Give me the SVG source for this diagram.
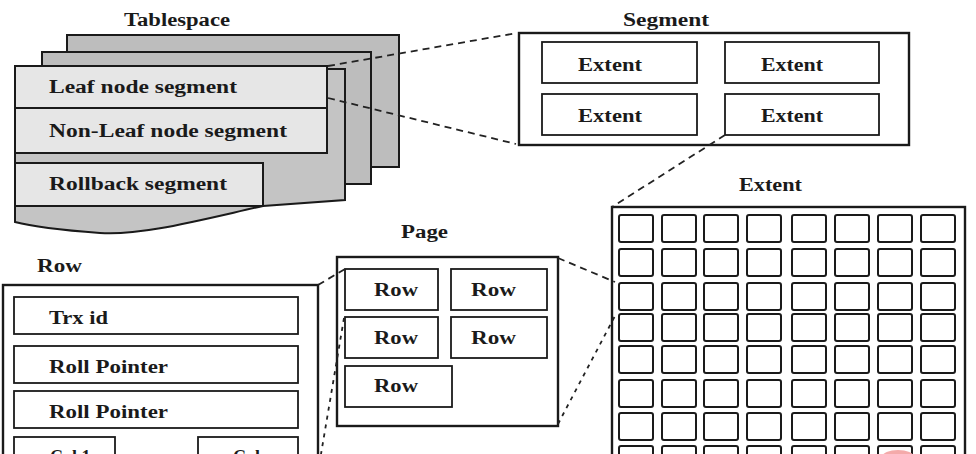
<svg xmlns="http://www.w3.org/2000/svg" width="976" height="454" viewBox="0 0 976 454">
<style>
text{font-family:"Liberation Serif","Times New Roman",serif;font-weight:bold;font-size:18px;fill:#1a1a1a}
.sheet{fill:#bdbdbd;stroke:#1a1a1a;stroke-width:2}
.front{fill:#c4c4c4;stroke:#1a1a1a;stroke-width:2}
.lbox{fill:#e6e6e6;stroke:#1a1a1a;stroke-width:2}
.outer{fill:#fff;stroke:#1a1a1a;stroke-width:2.4}
.box{fill:#fff;stroke:#1a1a1a;stroke-width:1.8}
.cell{fill:#fff;stroke:#1a1a1a;stroke-width:2}
.dash{fill:none;stroke:#222;stroke-width:1.8;stroke-dasharray:7 5}
.dot{fill:none;stroke:#222;stroke-width:1.8;stroke-dasharray:4 5}
</style>
<rect width="976" height="454" fill="#fff"/>

<g id="tablespace">
  <text x="124" y="26" textLength="106" lengthAdjust="spacingAndGlyphs">Tablespace</text>
  <rect class="sheet" x="67" y="35" width="332" height="132"/>
  <rect class="sheet" x="42" y="52" width="329" height="132"/>
  <path class="front" d="M15,69 H345 V200 L263,206 C200,220 140,236 100,233 C60,230 30,226 15,222 Z"/>
  <rect class="lbox" x="15" y="66" width="312" height="42"/>
  <rect class="lbox" x="15" y="108" width="312" height="45"/>
  <rect class="lbox" x="15" y="163" width="248" height="43"/>
  <text x="49" y="93" textLength="188" lengthAdjust="spacingAndGlyphs">Leaf node segment</text>
  <text x="49" y="137" textLength="238" lengthAdjust="spacingAndGlyphs">Non-Leaf node segment</text>
  <text x="49" y="190" textLength="178" lengthAdjust="spacingAndGlyphs">Rollback segment</text>
</g>

<g id="segment">
  <text x="623" y="26" textLength="86" lengthAdjust="spacingAndGlyphs">Segment</text>
  <rect class="outer" x="519" y="33" width="390" height="112"/>
  <rect class="box" x="542" y="42" width="155" height="41"/>
  <rect class="box" x="725" y="42" width="154" height="41"/>
  <rect class="box" x="542" y="94" width="155" height="41"/>
  <rect class="box" x="725" y="94" width="154" height="41"/>
  <text x="578" y="71" textLength="64" lengthAdjust="spacingAndGlyphs">Extent</text>
  <text x="761" y="71" textLength="62" lengthAdjust="spacingAndGlyphs">Extent</text>
  <text x="578" y="122" textLength="64" lengthAdjust="spacingAndGlyphs">Extent</text>
  <text x="761" y="122" textLength="62" lengthAdjust="spacingAndGlyphs">Extent</text>
</g>

<g id="extent">
  <text x="739" y="191" textLength="63" lengthAdjust="spacingAndGlyphs">Extent</text>
  <rect class="outer" x="612" y="207" width="353" height="260"/>
  <g id="cells">
    <g transform="translate(0,215)">
      <rect class="cell" x="619" y="0" width="34" height="27" rx="2"/><rect class="cell" x="662" y="0" width="34" height="27" rx="2"/><rect class="cell" x="704" y="0" width="34" height="27" rx="2"/><rect class="cell" x="747" y="0" width="34" height="27" rx="2"/><rect class="cell" x="792" y="0" width="34" height="27" rx="2"/><rect class="cell" x="835" y="0" width="34" height="27" rx="2"/><rect class="cell" x="878" y="0" width="34" height="27" rx="2"/><rect class="cell" x="921" y="0" width="34" height="27" rx="2"/>
    </g>
    <g transform="translate(0,249)">
      <rect class="cell" x="619" y="0" width="34" height="27" rx="2"/><rect class="cell" x="662" y="0" width="34" height="27" rx="2"/><rect class="cell" x="704" y="0" width="34" height="27" rx="2"/><rect class="cell" x="747" y="0" width="34" height="27" rx="2"/><rect class="cell" x="792" y="0" width="34" height="27" rx="2"/><rect class="cell" x="835" y="0" width="34" height="27" rx="2"/><rect class="cell" x="878" y="0" width="34" height="27" rx="2"/><rect class="cell" x="921" y="0" width="34" height="27" rx="2"/>
    </g>
    <g transform="translate(0,283)">
      <rect class="cell" x="619" y="0" width="34" height="27" rx="2"/><rect class="cell" x="662" y="0" width="34" height="27" rx="2"/><rect class="cell" x="704" y="0" width="34" height="27" rx="2"/><rect class="cell" x="747" y="0" width="34" height="27" rx="2"/><rect class="cell" x="792" y="0" width="34" height="27" rx="2"/><rect class="cell" x="835" y="0" width="34" height="27" rx="2"/><rect class="cell" x="878" y="0" width="34" height="27" rx="2"/><rect class="cell" x="921" y="0" width="34" height="27" rx="2"/>
    </g>
    <g transform="translate(0,314)">
      <rect class="cell" x="619" y="0" width="34" height="27" rx="2"/><rect class="cell" x="662" y="0" width="34" height="27" rx="2"/><rect class="cell" x="704" y="0" width="34" height="27" rx="2"/><rect class="cell" x="747" y="0" width="34" height="27" rx="2"/><rect class="cell" x="792" y="0" width="34" height="27" rx="2"/><rect class="cell" x="835" y="0" width="34" height="27" rx="2"/><rect class="cell" x="878" y="0" width="34" height="27" rx="2"/><rect class="cell" x="921" y="0" width="34" height="27" rx="2"/>
    </g>
    <g transform="translate(0,346)">
      <rect class="cell" x="619" y="0" width="34" height="27" rx="2"/><rect class="cell" x="662" y="0" width="34" height="27" rx="2"/><rect class="cell" x="704" y="0" width="34" height="27" rx="2"/><rect class="cell" x="747" y="0" width="34" height="27" rx="2"/><rect class="cell" x="792" y="0" width="34" height="27" rx="2"/><rect class="cell" x="835" y="0" width="34" height="27" rx="2"/><rect class="cell" x="878" y="0" width="34" height="27" rx="2"/><rect class="cell" x="921" y="0" width="34" height="27" rx="2"/>
    </g>
    <g transform="translate(0,380)">
      <rect class="cell" x="619" y="0" width="34" height="27" rx="2"/><rect class="cell" x="662" y="0" width="34" height="27" rx="2"/><rect class="cell" x="704" y="0" width="34" height="27" rx="2"/><rect class="cell" x="747" y="0" width="34" height="27" rx="2"/><rect class="cell" x="792" y="0" width="34" height="27" rx="2"/><rect class="cell" x="835" y="0" width="34" height="27" rx="2"/><rect class="cell" x="878" y="0" width="34" height="27" rx="2"/><rect class="cell" x="921" y="0" width="34" height="27" rx="2"/>
    </g>
    <g transform="translate(0,413)">
      <rect class="cell" x="619" y="0" width="34" height="27" rx="2"/><rect class="cell" x="662" y="0" width="34" height="27" rx="2"/><rect class="cell" x="704" y="0" width="34" height="27" rx="2"/><rect class="cell" x="747" y="0" width="34" height="27" rx="2"/><rect class="cell" x="792" y="0" width="34" height="27" rx="2"/><rect class="cell" x="835" y="0" width="34" height="27" rx="2"/><rect class="cell" x="878" y="0" width="34" height="27" rx="2"/><rect class="cell" x="921" y="0" width="34" height="27" rx="2"/>
    </g>
    <g transform="translate(0,446)">
      <rect class="cell" x="619" y="0" width="34" height="27" rx="2"/><rect class="cell" x="662" y="0" width="34" height="27" rx="2"/><rect class="cell" x="704" y="0" width="34" height="27" rx="2"/><rect class="cell" x="747" y="0" width="34" height="27" rx="2"/><rect class="cell" x="792" y="0" width="34" height="27" rx="2"/><rect class="cell" x="835" y="0" width="34" height="27" rx="2"/><rect class="cell" x="878" y="0" width="34" height="27" rx="2"/><rect class="cell" x="921" y="0" width="34" height="27" rx="2"/>
    </g>
  </g>
  <ellipse cx="898" cy="457" rx="16" ry="7" fill="#f4aaaa"/>
</g>

<g id="page">
  <text x="401" y="238" textLength="47" lengthAdjust="spacingAndGlyphs">Page</text>
  <rect class="outer" x="337" y="257" width="221" height="169"/>
  <rect class="box" x="345" y="269" width="93" height="41"/>
  <rect class="box" x="451" y="269" width="96" height="41"/>
  <rect class="box" x="345" y="317" width="93" height="41"/>
  <rect class="box" x="451" y="317" width="96" height="41"/>
  <rect class="box" x="345" y="366" width="107" height="41"/>
  <text x="374" y="296" textLength="44" lengthAdjust="spacingAndGlyphs">Row</text>
  <text x="471" y="296" textLength="45" lengthAdjust="spacingAndGlyphs">Row</text>
  <text x="374" y="344" textLength="44" lengthAdjust="spacingAndGlyphs">Row</text>
  <text x="471" y="344" textLength="45" lengthAdjust="spacingAndGlyphs">Row</text>
  <text x="374" y="392" textLength="44" lengthAdjust="spacingAndGlyphs">Row</text>
</g>

<g id="row">
  <text x="37" y="272" textLength="45" lengthAdjust="spacingAndGlyphs">Row</text>
  <rect class="outer" x="3" y="285" width="315" height="190"/>
  <rect class="box" x="14" y="297" width="284" height="37"/>
  <rect class="box" x="14" y="346" width="284" height="37"/>
  <rect class="box" x="14" y="391" width="284" height="37"/>
  <rect class="box" x="14" y="437" width="101" height="40"/>
  <rect class="box" x="198" y="437" width="100" height="40"/>
  <text x="49" y="324" textLength="59" lengthAdjust="spacingAndGlyphs">Trx id</text>
  <text x="49" y="373" textLength="119" lengthAdjust="spacingAndGlyphs">Roll Pointer</text>
  <text x="49" y="418" textLength="119" lengthAdjust="spacingAndGlyphs">Roll Pointer</text>
  <text x="50" y="463">Col 1</text>
  <text x="233" y="463">Col n</text>
</g>

<g id="connectors">
  <line class="dash" x1="328" y1="66" x2="517" y2="33"/>
  <line class="dash" x1="328" y1="98" x2="516" y2="144"/>
  <line class="dash" x1="725" y1="135" x2="612" y2="207"/>
  <line class="dash" x1="558" y1="258" x2="615" y2="282"/>
  <line class="dot" x1="558" y1="424" x2="616" y2="314"/>
  <line class="dash" x1="318" y1="285" x2="345" y2="269"/>
  <line class="dot" x1="344" y1="318" x2="320" y2="460"/>
</g>
</svg>
